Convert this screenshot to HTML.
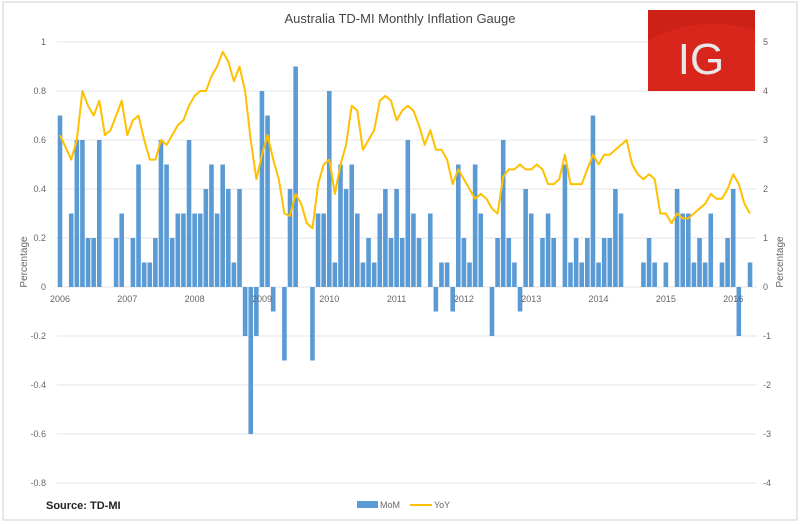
<!DOCTYPE html>
<html><head><meta charset="utf-8"><style>
body{margin:0;background:#fff;}
svg{display:block;font-family:"Liberation Sans",sans-serif;}
</style></head><body>
<svg id="chart" width="804" height="525" viewBox="0 0 804 525">
<rect x="3" y="2" width="794" height="518" fill="#fff" stroke="#d0d0d0"/>
<text x="400" y="23" text-anchor="middle" font-size="13" fill="#444">Australia TD-MI Monthly Inflation Gauge</text>
<g id="grid"></g>
<g id="bars"></g>
<g id="line"></g>
<g id="labels"></g>
<text transform="translate(27,262) rotate(-90)" text-anchor="middle" font-size="10" fill="#666">Percentage</text>
<text transform="translate(783,262) rotate(-90)" text-anchor="middle" font-size="10" fill="#666">Percentage</text>
<g>
<rect x="648" y="10" width="107" height="81" fill="#d9261c"/>
<path d="M648 10 L755 10 L755 30 Q700 14 648 40 Z" fill="#c41e16" opacity="0.6"/>
<text x="701" y="74" text-anchor="middle" font-size="44" fill="#e8e8e8" font-family="Liberation Sans,sans-serif">IG</text>
</g>
<text x="46" y="509" font-size="11" font-weight="bold" fill="#222">Source: TD-MI</text>
<g>
<rect x="357" y="501" width="21" height="7" fill="#5b9bd5"/>
<text x="380" y="508" font-size="9" fill="#666">MoM</text>
<line x1="410" y1="505" x2="432" y2="505" stroke="#ffc000" stroke-width="2"/>
<text x="434" y="508" font-size="9" fill="#666">YoY</text>
</g>
</svg>
<script>
const years = ["2006","2007","2008","2009","2010","2011","2012","2013","2014","2015","2016"];
const leftTicks = [1,0.8,0.6,0.4,0.2,0,-0.2,-0.4,-0.6,-0.8];
const rightTicks = [5,4,3,2,1,0,-1,-2,-3,-4];
const mom = [0.7,0,0.3,0.6,0.6,0.2,0.2,0.6,0,0,0.2,0.3,
0,0.2,0.5,0.1,0.1,0.2,0.6,0.5,0.2,0.3,0.3,0.6,
0.3,0.3,0.4,0.5,0.3,0.5,0.4,0.1,0.4,-0.2,-0.6,-0.2,
0.8,0.7,-0.1,0,-0.3,0.4,0.9,0,0,-0.3,0.3,0.3,
0.8,0.1,0.5,0.4,0.5,0.3,0.1,0.2,0.1,0.3,0.4,0.2,
0.4,0.2,0.6,0.3,0.2,0,0.3,-0.1,0.1,0.1,-0.1,0.5,
0.2,0.1,0.5,0.3,0,-0.2,0.2,0.6,0.2,0.1,-0.1,0.4,
0.3,0,0.2,0.3,0.2,0,0.5,0.1,0.2,0.1,0.2,0.7,
0.1,0.2,0.2,0.4,0.3,0,0,0,0.1,0.2,0.1,0,
0.1,0,0.4,0.3,0.3,0.1,0.2,0.1,0.3,0,0.1,0.2,
0.4,-0.2,0,0.1];
const yoy = [3.1,2.85,2.6,3.0,4.0,3.7,3.5,3.8,3.1,3.2,3.5,3.8,
3.1,3.4,3.5,3.0,2.6,2.6,3.0,2.9,3.1,3.3,3.4,3.7,
3.9,4.0,4.0,4.3,4.5,4.8,4.6,4.2,4.5,4.0,3.0,2.2,
2.7,3.1,2.6,2.2,1.5,1.45,1.9,1.7,1.3,1.2,2.1,2.5,
2.6,1.9,2.5,2.9,3.7,3.6,2.8,3.0,3.2,3.8,3.9,3.8,
3.4,3.6,3.7,3.6,3.3,2.9,3.2,2.8,2.8,2.6,2.1,2.4,
2.2,2.0,1.8,1.9,1.8,1.6,1.5,2.25,2.4,2.4,2.5,2.4,
2.4,2.5,2.4,2.1,2.1,2.2,2.7,2.1,2.1,2.1,2.4,2.7,
2.5,2.7,2.7,2.8,2.9,3.0,2.5,2.3,2.2,2.3,2.2,1.5,
1.5,1.3,1.5,1.4,1.4,1.5,1.6,1.7,1.9,1.8,1.8,2.0,
2.3,2.1,1.7,1.5];
const NS="http://www.w3.org/2000/svg";
const x = i => 60 + 5.61*i;
const yL = v => 287 - v*245;
const yR = v => 287 - v*49;
function mk(tag, attrs, parent){const e=document.createElementNS(NS,tag);for(const k in attrs)e.setAttribute(k,attrs[k]);parent.appendChild(e);return e;}
const grid=document.getElementById('grid'), bars=document.getElementById('bars'), lineG=document.getElementById('line'), labels=document.getElementById('labels');
leftTicks.forEach((t,k)=>{
  const gl=mk('line',{x1:57,x2:757,y1:yL(t),y2:yL(t),stroke:'#e4e4e4','stroke-width':1},grid);
  
  
  const lt=mk('text',{x:46,y:yL(t)+3,'text-anchor':'end','font-size':9,fill:'#666'},labels);
  lt.textContent=String(t);
  
  
});
rightTicks.forEach(t=>{
  const rt=mk('text',{x:763,y:yR(t)+3,'font-size':9,fill:'#666'},labels);
  rt.textContent=String(t);
  
  
});
years.forEach((yr,k)=>{
  const xt=mk('text',{x:x(k*12),y:302,'text-anchor':'middle','font-size':9,fill:'#666'},labels);
  xt.textContent=yr;
  
  
});
mom.forEach((v,i)=>{
  if(v===0) return;
  const y0=yL(0), y1=yL(v);
  const b=mk('rect',{x:x(i)-2.3,y:Math.min(y0,y1),width:4.6,height:Math.abs(y1-y0),fill:'#5b9bd5'},bars);
  
  
});
const pts=yoy.map((v,i)=>x(i).toFixed(1)+','+yR(v).toFixed(1)).join(' ');
const pl=mk('polyline',{points:pts,fill:'none',stroke:'#ffc000','stroke-width':2,'stroke-linejoin':'round'},lineG);


</script>
</body></html>
